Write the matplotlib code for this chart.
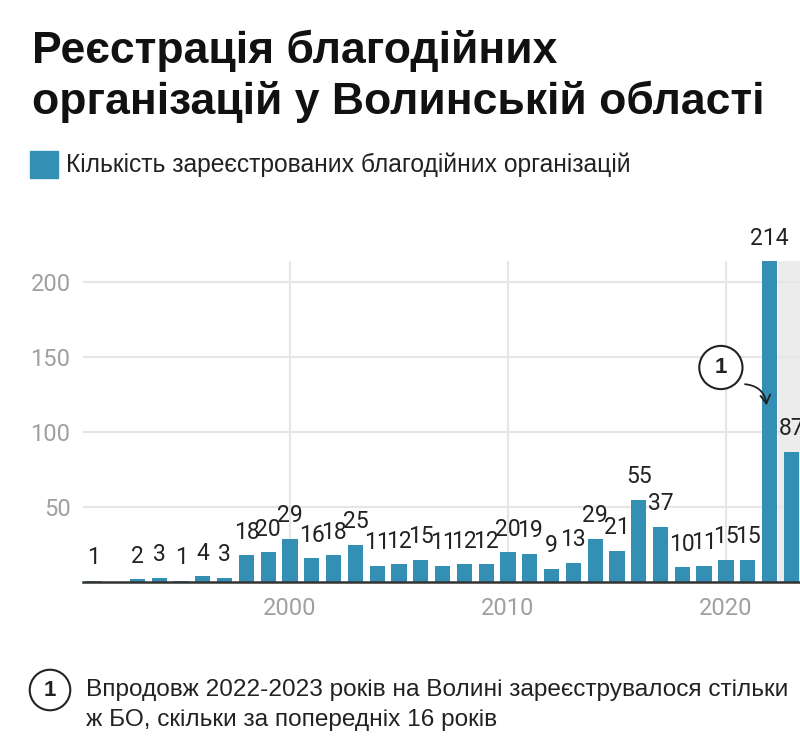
import matplotlib
matplotlib.use('Agg')
import matplotlib.pyplot as plt

# роки та кількість зареєстрованих БО
years = [1991, 1993, 1994, 1995, 1996, 1997, 1998, 1999, 2000, 2001, 2002, 2003,
         2004, 2005, 2006, 2007, 2008, 2009, 2010, 2011, 2012, 2013, 2014, 2015,
         2016, 2017, 2018, 2019, 2020, 2021, 2022, 2023]
counts = [1, 2, 3, 1, 4, 3, 18, 20, 29, 16, 18, 25,
          11, 12, 15, 11, 12, 12, 20, 19, 9, 13, 29, 21,
          55, 37, 10, 11, 15, 15, 214, 87]

title = 'Реєстрація благодійних\nорганізацій у Волинській області'
legend_label = 'Кількість зареєстрованих благодійних організацій'
note = 'Впродовж 2022-2023 років на Волині зареєструвалося стільки\nж БО, скільки за попередніх 16 років'

bar_color = '#3390b4'
head_font = 'Liberation Sans'
num_font = 'Roboto'

fig = plt.figure(figsize=(8, 7.46), dpi=100)
ax = fig.add_axes([83 / 800, 1 - 582 / 746, 1 - 83 / 800, 321 / 746])

ax.axvspan(2022.4, 2030, color='#ececec', zorder=0, lw=0)
ax.bar(years, counts, width=0.7, color=bar_color, zorder=2)

for x, v in zip(years, counts):
    ax.annotate(str(v), (x, v), xytext=(0, 8), textcoords='offset points',
                ha='center', va='bottom', fontsize=16.5, family=num_font,
                color='#222222', zorder=4, annotation_clip=False)

ax.set_xlim(1990.5, 2023.4)
ax.set_ylim(0, 214)
ax.set_yticks([50, 100, 150, 200])
ax.set_xticks([2000, 2010, 2020])
ax.grid(True, color='#e6e6e6', lw=1.5, zorder=0)
ax.set_axisbelow(True)
for s in ['top', 'right', 'left']:
    ax.spines[s].set_visible(False)
ax.spines['bottom'].set_color('#333333')
ax.spines['bottom'].set_linewidth(1.8)
ax.spines['bottom'].set_zorder(5)
ax.tick_params(length=0, labelsize=17, labelcolor='#a0a0a0')
ax.tick_params(axis='x', pad=11)
ax.tick_params(axis='y', pad=9)
for lbl in ax.get_xticklabels() + ax.get_yticklabels():
    lbl.set_family(num_font)

# позначка 1 на графіку
ax.annotate('', xy=(2021.88, 116), xytext=(2020.75, 132),
            arrowprops=dict(arrowstyle='->,head_length=0.6,head_width=0.35',
                            color='#222222', lw=1.3,
                            connectionstyle='arc3,rad=-0.45'), zorder=6)
ax.text(2019.77, 143, '1', ha='center', va='center', fontsize=16,
        fontweight='bold', family=head_font, color='#222222', zorder=7,
        bbox=dict(boxstyle='circle,pad=0.5', fc='white', ec='#222222', lw=1.5))

# заголовок і легенда
fig.text(32 / 800, 1 - 30 / 746, title, ha='left', va='top', fontsize=32,
         fontweight='bold', family=head_font, color='#111111', linespacing=1.25)
fig.patches.append(plt.Rectangle((30 / 800, 1 - 178 / 746), 28 / 800, 27 / 746,
                                 transform=fig.transFigure, color=bar_color))
fig.text(66 / 800, 1 - 165 / 746, legend_label, ha='left', va='center',
         fontsize=17.7, family=head_font, color='#222222')

# примітка
fig.text(50 / 800, 1 - 690 / 746, '1', ha='center', va='center', fontsize=16,
         fontweight='bold', family=head_font, color='#222222',
         bbox=dict(boxstyle='circle,pad=0.44', fc='white', ec='#222222', lw=1.5))
fig.text(86 / 800, 1 - 705 / 746, note, ha='left', va='center', fontsize=17.6,
         family=head_font, color='#222222', linespacing=1.5)

fig.savefig('out.png', dpi=100)
